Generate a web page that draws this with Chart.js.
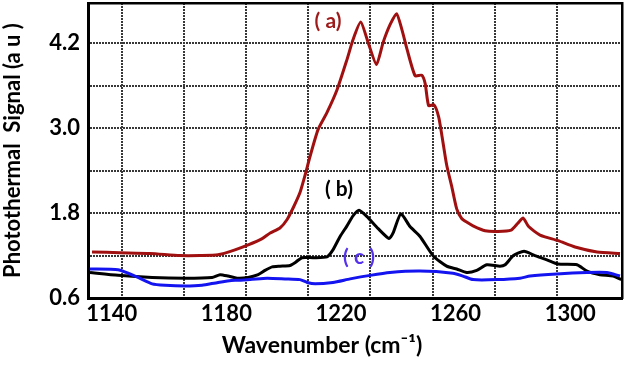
<!DOCTYPE html>
<html>
<head>
<meta charset="utf-8">
<script src="https://cdn.jsdelivr.net/npm/chart.js@4.4.1/dist/chart.umd.min.js"></script>
<style>
  html, body { margin: 0; padding: 0; background: #fff; }
</style>
</head>
<body>
<canvas id="spectra" width="644" height="368"></canvas>
<script>
// Tick values
const xTickLabels = [1140, 1180, 1220, 1260, 1300];
const xGridLines = [1140, 1160, 1180, 1200, 1220, 1240, 1260, 1280];
const yTicks = [0.6, 1.2, 1.8, 2.4, 3.0, 3.6, 4.2];
const yTickLabels = [0.6, 1.8, 3.0, 4.2];

// Curve (a)
const wavenumberA = [1133.1, 1142.9, 1153.4, 1163.8, 1170.8, 1177.1, 1183.0, 1187.6, 1192.5, 1195.3,
  1198.7, 1201.2, 1203.5, 1205.7, 1207.5, 1209.2, 1212.0, 1215.1, 1218.6, 1222.1,
  1224.2, 1226.9, 1229.5, 1232.4, 1234.7, 1237.1, 1239.4, 1241.3, 1243.1, 1245.9,
  1248.2, 1249.4, 1250.6, 1252.5, 1254.1, 1255.3, 1256.9, 1258.7, 1260.4, 1262.2,
  1264.0, 1266.1, 1270.3, 1274.8, 1279.4, 1281.8, 1283.6, 1285.5, 1289.5, 1295.8,
  1301.7, 1309.4, 1317.4];
const signalA = [1.25, 1.24, 1.23, 1.20, 1.20, 1.21, 1.28, 1.35, 1.44, 1.52,
  1.59, 1.71, 1.89, 2.09, 2.34, 2.60, 2.98, 3.22, 3.54, 3.97,
  4.25, 4.50, 4.21, 3.90, 4.21, 4.46, 4.62, 4.39, 4.11, 3.74,
  3.75, 3.63, 3.32, 3.33, 3.16, 2.88, 2.48, 2.17, 1.86, 1.72,
  1.67, 1.62, 1.55, 1.54, 1.56, 1.66, 1.73, 1.61, 1.49, 1.41,
  1.32, 1.25, 1.23];

// Curve (b)
const wavenumberB = [1132.4, 1142.2, 1154.1, 1165.6, 1175.0, 1177.8, 1180.6, 1183.7, 1187.6, 1191.1,
  1193.5, 1196.0, 1198.7, 1202.2, 1204.3, 1206.4, 1210.3, 1215.1, 1217.2, 1219.7,
  1222.1, 1224.2, 1226.3, 1229.1, 1233.0, 1236.8, 1238.2, 1240.9, 1244.1, 1247.6,
  1252.3, 1256.9, 1260.4, 1263.9, 1267.4, 1270.9, 1275.5, 1277.3, 1280.2, 1283.9,
  1287.7, 1291.9, 1295.8, 1302.4, 1305.9, 1310.4, 1315.0, 1317.8];
const signalB = [0.96, 0.92, 0.89, 0.88, 0.89, 0.93, 0.91, 0.88, 0.89, 0.93,
  0.99, 1.04, 1.05, 1.06, 1.11, 1.17, 1.17, 1.18, 1.28, 1.47,
  1.62, 1.76, 1.84, 1.75, 1.58, 1.44, 1.52, 1.79, 1.61, 1.47,
  1.19, 1.05, 1.01, 0.96, 0.99, 1.07, 1.05, 1.07, 1.20, 1.26,
  1.20, 1.14, 1.08, 1.07, 0.98, 0.93, 0.91, 0.86];

// Curve (c)
const wavenumberC = [1132.4, 1142.2, 1145.7, 1149.2, 1154.1, 1158.6, 1165.6, 1171.5, 1177.1, 1183.0,
  1188.3, 1194.2, 1200.5, 1205.7, 1208.2, 1211.0, 1217.2, 1223.2, 1230.2, 1237.1,
  1247.6, 1259.1, 1262.6, 1266.1, 1274.5, 1282.5, 1286.0, 1295.3, 1305.8, 1312.8,
  1317.4];
const signalC = [1.01, 1.00, 0.95, 0.89, 0.80, 0.78, 0.77, 0.78, 0.82, 0.85,
  0.86, 0.88, 0.87, 0.86, 0.82, 0.80, 0.82, 0.87, 0.92, 0.96,
  0.98, 0.95, 0.91, 0.86, 0.86, 0.88, 0.91, 0.94, 0.96, 0.96,
  0.91];

const FONT = 'Lato, "Open Sans", sans-serif';
const GRID_COLOR = '#383838';

function toPoints(xs, ys) {
  return xs.map((x, i) => ({ x: x, y: ys[i] }));
}

// no extra room for the first/last tick label halves
function noLabelPadding(axis) {
  axis.paddingTop = 0;
  axis.paddingBottom = 0;
  axis.paddingLeft = 0;
  axis.paddingRight = 0;
}

// (a) (b) (c) tags next to the curves
const curveTags = {
  id: 'curveTags',
  afterDatasetsDraw(chart) {
    const { ctx, scales } = chart;
    const tags = [
      { text: '( a)', x: 1215.5, y: 4.51, color: '#9e1a1a' },
      { text: '( b)', x: 1219.3, y: 2.14, color: '#000000' },
      { text: '( c )', x: 1226.3, y: 1.17, color: '#5533ee' }
    ];
    ctx.save();
    ctx.font = 'bold 21px ' + FONT;
    ctx.textAlign = 'center';
    ctx.textBaseline = 'middle';
    tags.forEach(t => {
      ctx.fillStyle = t.color;
      ctx.fillText(t.text, scales.x.getPixelForValue(t.x), scales.y.getPixelForValue(t.y));
    });
    ctx.restore();
  }
};

new Chart(document.getElementById('spectra'), {
  type: 'line',
  data: {
    datasets: [
      { label: '(a)', data: toPoints(wavenumberA, signalA), borderColor: '#a01010', borderWidth: 3 },
      { label: '(c)', data: toPoints(wavenumberC, signalC), borderColor: '#1414f0', borderWidth: 3 },
      { label: '(b)', data: toPoints(wavenumberB, signalB), borderColor: '#000000', borderWidth: 3 }
    ]
  },
  options: {
    responsive: false,
    animation: false,
    elements: {
      point: { radius: 0 },
      line: { tension: 0.2, fill: false }
    },
    layout: { padding: 0 },
    plugins: {
      legend: { display: false },
      tooltip: { enabled: false },
      title: {
        display: true,
        position: 'bottom',
        text: 'Wavenumber (cm\u207B\u00B9)',
        color: '#000',
        font: { family: FONT, size: 23, weight: 'bold' },
        padding: { top: 4, bottom: 9 }
      }
    },
    scales: {
      x: {
        type: 'linear',
        position: 'bottom',
        min: 1131.7,
        max: 1318.1,
        afterBuildTicks: axis => { axis.ticks = xTickLabels.map(v => ({ value: v })); },
        afterFit: axis => { noLabelPadding(axis); axis.height = 29.4; },
        grid: { display: false, drawTicks: false },
        border: { display: true, color: '#000', width: 3 },
        ticks: {
          color: '#000',
          font: { family: FONT, size: 22, weight: 'bold' },
          padding: 3,
          maxRotation: 0,
          autoSkip: false,
          callback: v => String(v)
        }
      },
      xg: {
        type: 'linear',
        display: true,
        position: 'bottom',
        min: 1129.2,
        max: 1300.9,
        afterBuildTicks: axis => { axis.ticks = xGridLines.map(v => ({ value: v })); },
        afterFit: axis => { noLabelPadding(axis); axis.height = 0; },
        grid: { color: GRID_COLOR, lineWidth: 2, drawTicks: false },
        border: { display: false, dash: [2, 1] },
        ticks: { display: false }
      },
      y: {
        type: 'linear',
        position: 'left',
        min: 0.6,
        max: 4.77,
        afterBuildTicks: axis => { axis.ticks = yTicks.map(v => ({ value: v })); },
        afterFit: axis => { noLabelPadding(axis); axis.width = 88; },
        grid: { color: GRID_COLOR, lineWidth: 2, drawTicks: false },
        border: { display: true, color: '#000', width: 3, dash: [2, 1] },
        ticks: {
          color: '#000',
          font: { family: FONT, size: 22, weight: 'bold' },
          padding: 8,
          callback: v => yTickLabels.includes(v) ? v.toFixed(1) : ''
        },
        title: {
          display: true,
          text: 'Photothermal  Signal (a u )',
          color: '#000',
          font: { family: FONT, size: 22, weight: 'bold' },
          padding: { top: 0, bottom: 0 }
        }
      },
      xt: {
        type: 'linear',
        display: true,
        position: 'top',
        afterFit: axis => { noLabelPadding(axis); axis.height = 3; },
        grid: { display: false, drawTicks: false },
        border: { display: true, color: '#000', width: 2.5 },
        ticks: { display: false }
      },
      yr: {
        type: 'linear',
        display: true,
        position: 'right',
        afterFit: axis => { noLabelPadding(axis); axis.width = 22; },
        grid: { display: false, drawTicks: false },
        border: { display: true, color: '#000', width: 2.5 },
        ticks: { display: false }
      }
    }
  },
  plugins: [curveTags]
});
</script>
</body>
</html>
